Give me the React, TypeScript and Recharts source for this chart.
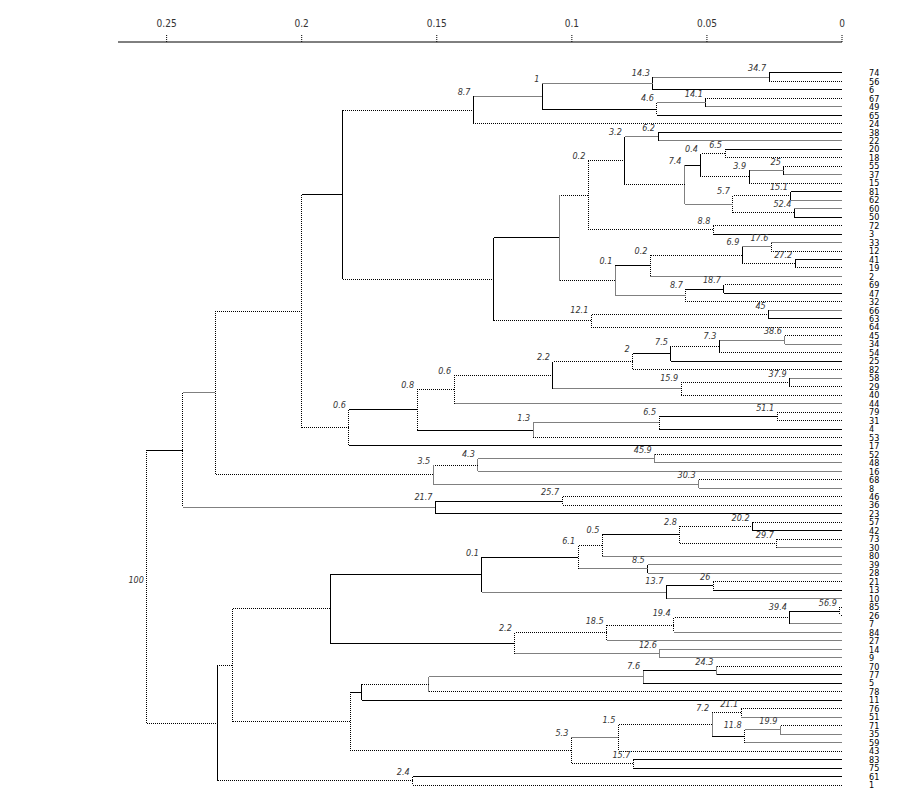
import React from 'react';
import { ScatterChart, Scatter, XAxis, YAxis } from 'recharts';

// leaves, top to bottom
const leafLabels = [
  '74', '56', '6', '67', '49', '65', '24', '38', '22', '20', '18', '55', '37', '15', '81', '62', '60',
  '50', '72', '3', '33', '12', '41', '19', '2', '69', '47', '32', '66', '63', '64', '45', '34', '54',
  '25', '82', '58', '29', '40', '44', '79', '31', '4', '53', '17', '52', '48', '16', '68', '8', '46',
  '36', '23', '57', '42', '73', '30', '80', '39', '28', '21', '13', '10', '85', '26', '7', '84', '27',
  '14', '9', '70', '77', '5', '78', '11', '76', '51', '71', '35', '59', '43', '83', '75', '61', '1',
];

// [node, upper child, lower child, height, support]
const merges: [string, string, string, number, string][] = [
  ['nA1', '74', '56', 0.027, '34.7'],
  ['nA2', 'nA1', '6', 0.07, '14.3'],
  ['nA3', '67', '49', 0.0504, '14.1'],
  ['nA4', 'nA3', '65', 0.0685, '4.6'],
  ['nA5', 'nA2', 'nA4', 0.1109, '1'],
  ['nA6', 'nA5', '24', 0.1364, '8.7'],
  ['nB1', '38', '22', 0.0681, '6.2'],
  ['nB2', '20', '18', 0.0433, '6.5'],
  ['nB3', '55', '37', 0.0215, '25'],
  ['nB4', 'nB3', '15', 0.0344, '3.9'],
  ['nB5', 'nB2', 'nB4', 0.0522, '0.4'],
  ['nB6', '81', '62', 0.0189, '15.1'],
  ['nB7', '60', '50', 0.0176, '52.4'],
  ['nB8', 'nB6', 'nB7', 0.0404, '5.7'],
  ['nB9', 'nB5', 'nB8', 0.0583, '7.4'],
  ['nB10', 'nB1', 'nB9', 0.0804, '3.2'],
  ['nB11', '72', '3', 0.0476, '8.8'],
  ['nB12', 'nB10', 'nB11', 0.0939, '0.2'],
  ['nC1', '33', '12', 0.0261, '17.6'],
  ['nC2', '41', '19', 0.0173, '27.2'],
  ['nC3', 'nC1', 'nC2', 0.0369, '6.9'],
  ['nC4', 'nC3', '2', 0.0709, '0.2'],
  ['nC5', '69', '47', 0.0437, '18.7'],
  ['nC6', 'nC5', '32', 0.0578, '8.7'],
  ['nC7', 'nC4', 'nC6', 0.0839, '0.1'],
  ['nBC', 'nB12', 'nC7', 0.1046, ''],
  ['nD1', '66', '63', 0.0271, '45'],
  ['nD2', 'nD1', '64', 0.0928, '12.1'],
  ['nBD', 'nBC', 'nD2', 0.1289, ''],
  ['nAD', 'nA6', 'nBD', 0.1848, ''],
  ['nE1', '45', '34', 0.0211, '38.6'],
  ['nE2', 'nE1', '54', 0.0454, '7.3'],
  ['nE3', 'nE2', '25', 0.0633, '7.5'],
  ['nE4', 'nE3', '82', 0.0775, '2'],
  ['nE5', '58', '29', 0.0194, '37.9'],
  ['nE6', 'nE5', '40', 0.0595, '15.9'],
  ['nE7', 'nE4', 'nE6', 0.107, '2.2'],
  ['nE8', 'nE7', '44', 0.1436, '0.6'],
  ['nE9', '79', '31', 0.024, '51.1'],
  ['nE10', 'nE9', '4', 0.0677, '6.5'],
  ['nE11', 'nE10', '53', 0.1143, '1.3'],
  ['nE12', 'nE8', 'nE11', 0.1573, '0.8'],
  ['nE13', 'nE12', '17', 0.1825, '0.6'],
  ['nAE', 'nAD', 'nE13', 0.2, ''],
  ['nF1', '52', '48', 0.0693, '45.9'],
  ['nF2', 'nF1', '16', 0.1348, '4.3'],
  ['nF3', '68', '8', 0.0531, '30.3'],
  ['nF4', 'nF2', 'nF3', 0.1513, '3.5'],
  ['nAF', 'nAE', 'nF4', 0.232, ''],
  ['nG1', '46', '36', 0.1036, '25.7'],
  ['nG2', 'nG1', '23', 0.1505, '21.7'],
  ['nAG', 'nAF', 'nG2', 0.244, ''],
  ['nH1', '57', '42', 0.0331, '20.2'],
  ['nH2', '73', '30', 0.0241, '29.7'],
  ['nH3', 'nH1', 'nH2', 0.06, '2.8'],
  ['nH4', 'nH3', '80', 0.0887, '0.5'],
  ['nH5', '39', '28', 0.0719, '8.5'],
  ['nH6', 'nH4', 'nH5', 0.0977, '6.1'],
  ['nH7', '21', '13', 0.0476, '26'],
  ['nH8', 'nH7', '10', 0.065, '13.7'],
  ['nH9', 'nH6', 'nH8', 0.1333, '0.1'],
  ['nI1', '85', '26', 0.0008, '56.9'],
  ['nI2', 'nI1', '7', 0.0193, '39.4'],
  ['nI3', 'nI2', '84', 0.0623, '19.4'],
  ['nI4', 'nI3', '27', 0.0871, '18.5'],
  ['nI5', '14', '9', 0.0674, '12.6'],
  ['nI6', 'nI4', 'nI5', 0.1211, '2.2'],
  ['nHI', 'nH9', 'nI6', 0.1894, ''],
  ['nJ1', '70', '77', 0.0465, '24.3'],
  ['nJ2', 'nJ1', '5', 0.0736, '7.6'],
  ['nJ3', 'nJ2', '78', 0.153, ''],
  ['nJ4', 'nJ3', '11', 0.1778, ''],
  ['nK1', '76', '51', 0.0373, '21.1'],
  ['nK2', '71', '35', 0.0228, '19.9'],
  ['nK3', 'nK2', '59', 0.036, '11.8'],
  ['nK4', 'nK1', 'nK3', 0.0481, '7.2'],
  ['nK5', 'nK4', '43', 0.0828, '1.5'],
  ['nK6', '83', '75', 0.0772, '15.7'],
  ['nK7', 'nK5', 'nK6', 0.1002, '5.3'],
  ['nJK', 'nJ4', 'nK7', 0.182, ''],
  ['nHK', 'nHI', 'nJK', 0.2257, ''],
  ['nL1', '61', '1', 0.1589, '2.4'],
  ['nHL', 'nHK', 'nL1', 0.231, ''],
  ['root', 'nAG', 'nHL', 0.2573, '100'],
];

const xTicks = [0, 0.05, 0.1, 0.15, 0.2, 0.25];

// horizontal line style leading to each leaf / node (b solid, g grey, d dotted)
const leafStyles = 'bdbdgbdbgbddgdbggbdbgdbdgdbdgbddgdbdgddgddbdbdggdgddbdbdggggdbgddgggggdbbdbdgdggdbbbd';
const nodeStyles: Record<string, string> = {
  nA1: 'g', nA2: 'g', nA3: 'g', nA4: 'b', nA5: 'g', nA6: 'd',
  nB1: 'g', nB2: 'd', nB3: 'g', nB4: 'd', nB5: 'b', nB6: 'd', nB7: 'd', nB8: 'g', nB9: 'd', nB10: 'd', nB11: 'd', nB12: 'd',
  nC1: 'g', nC2: 'd', nC3: 'd', nC4: 'b', nC5: 'b', nC6: 'g', nC7: 'd', nBC: 'b', nD1: 'd', nD2: 'd', nBD: 'd', nAD: 'b',
  nE1: 'g', nE2: 'd', nE3: 'b', nE4: 'd', nE5: 'd', nE6: 'g', nE7: 'd', nE8: 'd', nE9: 'b', nE10: 'g', nE11: 'b', nE12: 'b', nE13: 'd', nAE: 'd',
  nF1: 'g', nF2: 'd', nF3: 'g', nF4: 'd', nAF: 'g', nG1: 'b', nG2: 'g', nAG: 'b',
  nH1: 'd', nH2: 'd', nH3: 'b', nH4: 'd', nH5: 'g', nH6: 'b', nH7: 'b', nH8: 'g', nH9: 'b',
  nI1: 'b', nI2: 'd', nI3: 'd', nI4: 'd', nI5: 'g', nI6: 'b', nHI: 'd',
  nJ1: 'b', nJ2: 'g', nJ3: 'd', nJ4: 'b', nK1: 'd', nK2: 'g', nK3: 'b', nK4: 'd', nK5: 'g', nK6: 'd', nK7: 'd',
  nJK: 'd', nHK: 'd', nL1: 'd', nHL: 'd',
};

// vertical (joining) line style of each node
const vertStyles: Record<string, string> = {
  nA1: 'b', nA2: 'b', nA3: 'b', nA4: 'd', nA5: 'b', nA6: 'b',
  nB1: 'b', nB2: 'd', nB3: 'b', nB4: 'b', nB5: 'b', nB6: 'b', nB7: 'b', nB8: 'd', nB9: 'g', nB10: 'b', nB11: 'd', nB12: 'd',
  nC1: 'd', nC2: 'b', nC3: 'b', nC4: 'd', nC5: 'b', nC6: 'd', nC7: 'g', nBC: 'g', nD1: 'b', nD2: 'd', nBD: 'b', nAD: 'b',
  nE1: 'g', nE2: 'b', nE3: 'b', nE4: 'd', nE5: 'b', nE6: 'd', nE7: 'b', nE8: 'd', nE9: 'd', nE10: 'd', nE11: 'g', nE12: 'd', nE13: 'd', nAE: 'd',
  nF1: 'g', nF2: 'g', nF3: 'g', nF4: 'g', nAF: 'd', nG1: 'd', nG2: 'b', nAG: 'd',
  nH1: 'b', nH2: 'd', nH3: 'd', nH4: 'd', nH5: 'b', nH6: 'd', nH7: 'd', nH8: 'b', nH9: 'b',
  nI1: 'd', nI2: 'b', nI3: 'd', nI4: 'd', nI5: 'g', nI6: 'd', nHI: 'b',
  nJ1: 'g', nJ2: 'g', nJ3: 'g', nJ4: 'b', nK1: 'd', nK2: 'g', nK3: 'd', nK4: 'g', nK5: 'd', nK6: 'd', nK7: 'd',
  nJK: 'd', nHK: 'd', nL1: 'd', nHL: 'b', root: 'd',
};

const lineStyles: Record<string, any> = {
  b: { stroke: '#000', strokeWidth: 1, shapeRendering: 'crispEdges' },
  g: { stroke: '#808080', strokeWidth: 1, shapeRendering: 'crispEdges' },
  d: { stroke: '#000', strokeWidth: 1, strokeDasharray: '1 1', shapeRendering: 'crispEdges' },
};

const FONT = "'Liberation Sans Narrow', 'DejaVu Sans Condensed', sans-serif";

// node positions: x = merge height, y = mean of the children
const height = new Map<string, number>();
const pos = new Map<string, number>();
leafLabels.forEach((l, i) => {
  height.set(l, 0);
  pos.set(l, i);
});
merges.forEach(([id, a, b, h]) => {
  height.set(id, h);
  pos.set(id, (pos.get(a)! + pos.get(b)!) / 2);
});

const styleOf = (id: string) => {
  const i = leafLabels.indexOf(id);
  return i >= 0 ? leafStyles[i] : nodeStyles[id] || 'b';
};

const segments: { key: string; style: string; pts: { x: number; y: number }[] }[] = [];
merges.forEach(([id, a, b, h]) => {
  [a, b].forEach((c) => {
    segments.push({
      key: id + '-' + c,
      style: styleOf(c),
      pts: [
        { x: height.get(c)!, y: pos.get(c)! },
        { x: h, y: pos.get(c)! },
      ],
    });
  });
  segments.push({
    key: id + '-v',
    style: vertStyles[id] || 'b',
    pts: [
      { x: h, y: pos.get(a)! },
      { x: h, y: pos.get(b)! },
    ],
  });
});

const nodeLabels = merges
  .filter((m) => m[4] !== '')
  .map(([id, a, , h, s]) => ({
    x: h,
    y: id === 'root' ? pos.get(id)! : pos.get(a)!,
    text: s,
    mid: id === 'root',
  }));

const NoDot = () => <g />;

const NodeLabel = (props: any) => {
  const { cx, cy, payload } = props;
  return (
    <text
      x={cx - 3}
      y={payload.mid ? cy - 4 : cy - 1.5}
      textAnchor="end"
      fontSize={9}
      fontStyle="italic"
      fontFamily={FONT}
      fill="#333"
    >
      {payload.text}
    </text>
  );
};

const App = () => {
  return (
    <div style={{ width: 895, height: 783 }}>
      <ScatterChart width={895} height={783} margin={{ top: 4, right: 11, bottom: 2, left: 110 }}>
        <XAxis
          type="number"
          dataKey="x"
          orientation="top"
          reversed
          domain={[0, 0.268]}
          allowDataOverflow
          ticks={xTicks}
          interval={0}
          height={30}
          tickSize={7}
          tickMargin={8}
          axisLine={{ stroke: '#000' }}
          tickLine={{ stroke: '#000', strokeDasharray: '1 1' }}
          tick={{ fontSize: 10, fill: '#333', fontFamily: FONT }}
        />
        <YAxis
          type="number"
          dataKey="y"
          orientation="right"
          reversed
          domain={[-3.657, 84.47]}
          allowDataOverflow
          ticks={leafLabels.map((_, i) => i)}
          interval={0}
          width={50}
          tickSize={20}
          tickMargin={7}
          axisLine={false}
          tickLine={false}
          tickFormatter={(v: number) => leafLabels[v] ?? ''}
          tick={{ fontSize: 9, fill: '#000', fontFamily: FONT }}
        />
        {segments.map((sg) => (
          <Scatter
            key={sg.key}
            data={sg.pts}
            line={lineStyles[sg.style]}
            lineType="joint"
            shape={NoDot}
            isAnimationActive={false}
          />
        ))}
        <Scatter data={nodeLabels} shape={NodeLabel} isAnimationActive={false} />
      </ScatterChart>
    </div>
  );
};

export default App;
